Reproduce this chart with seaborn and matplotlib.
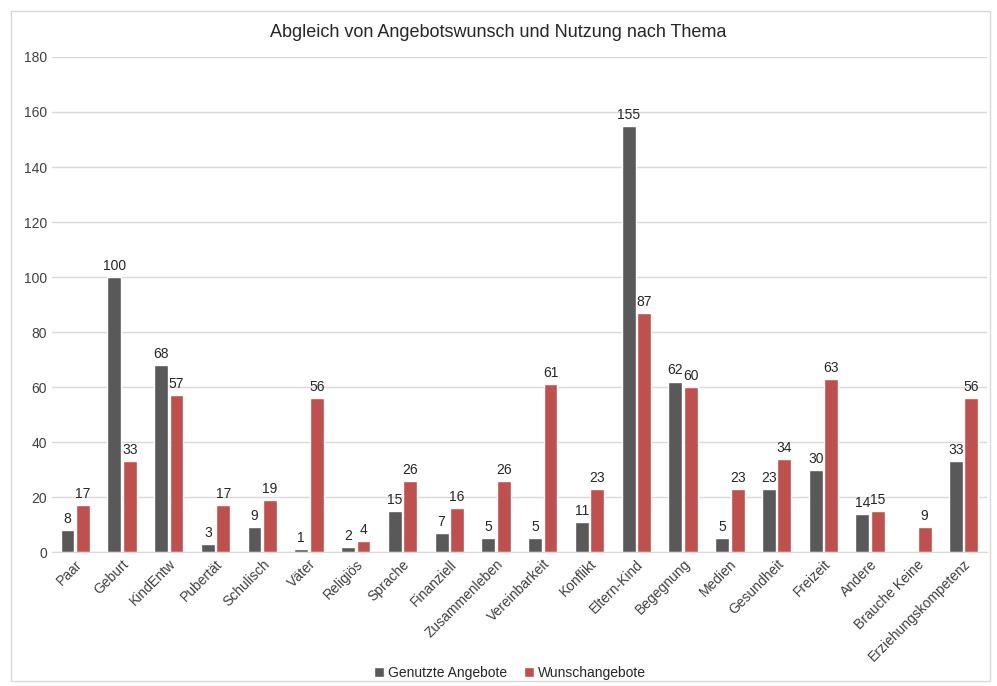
import pandas as pd
import numpy as np
import matplotlib.pyplot as plt
import seaborn as sns
from matplotlib.patches import Rectangle

# Data
themen = ["Paar", "Geburt", "KindEntw", "Pubertät", "Schulisch", "Väter", "Religiös",
          "Sprache", "Finanziell", "Zusammenleben", "Vereinbarkeit", "Konflikt",
          "Eltern-Kind", "Begegnung", "Medien", "Gesundheit", "Freizeit", "Andere",
          "Brauche Keine", "Erziehungskompetenz"]
genutzt = [8, 100, 68, 3, 9, 1, 2, 15, 7, 5, 5, 11, 155, 62, 5, 23, 30, 14, np.nan, 33]
wunsch = [17, 33, 57, 17, 19, 56, 4, 26, 16, 26, 61, 23, 87, 60, 23, 34, 63, 15, 9, 56]

data = pd.DataFrame({
    "Thema": themen * 2,
    "Anzahl": genutzt + wunsch,
    "Serie": ["Genutzte Angebote"] * len(themen) + ["Wunschangebote"] * len(themen),
})

sns.set_style("white")
plt.rcParams['font.family'] = ['Liberation Sans', 'DejaVu Sans']

fig = plt.figure(figsize=(9.97, 6.86), dpi=100)
ax = fig.add_axes([0.052, 0.195, 0.938, 0.722])

sns.barplot(data=data, x="Thema", y="Anzahl", hue="Serie",
            palette=["#595959", "#C0504D"], saturation=1, width=0.66, gap=0.1,
            errorbar=None, ax=ax, order=themen)

for cont in ax.containers:
    labels = ["" if np.isnan(v) else f"{v:g}" for v in cont.datavalues]
    ax.bar_label(cont, labels=labels, padding=3, fontsize=10, color="#262626")

ax.set_ylim(0, 180)
ax.set_yticks(range(0, 181, 20))
ax.set_xlim(-0.5, len(themen) - 0.5)
ax.yaxis.grid(True, color="#d9d9d9", linewidth=1)
ax.set_axisbelow(True)
for s in ["top", "right", "left"]:
    ax.spines[s].set_visible(False)
ax.spines["bottom"].set_color("#d9d9d9")
ax.tick_params(axis="both", length=0, labelsize=10, colors="#404040")
plt.setp(ax.get_xticklabels(), rotation=45, ha="right", rotation_mode="anchor")
ax.set_xlabel("")
ax.set_ylabel("")

fig.suptitle("Abgleich von Angebotswunsch und Nutzung nach Thema", y=0.965,
             fontsize=13, color="#262626")

leg = ax.legend(loc="center", bbox_to_anchor=(0.49, -0.243), ncol=2,
                frameon=False, fontsize=10, handlelength=0.7, handleheight=0.7,
                columnspacing=1.2, handletextpad=0.3)

fig.patches.append(Rectangle((0.011, 0.008), 0.982, 0.976, transform=fig.transFigure,
                             fill=False, edgecolor="#d9d9d9", linewidth=1))

plt.savefig("out.png", dpi=100)
